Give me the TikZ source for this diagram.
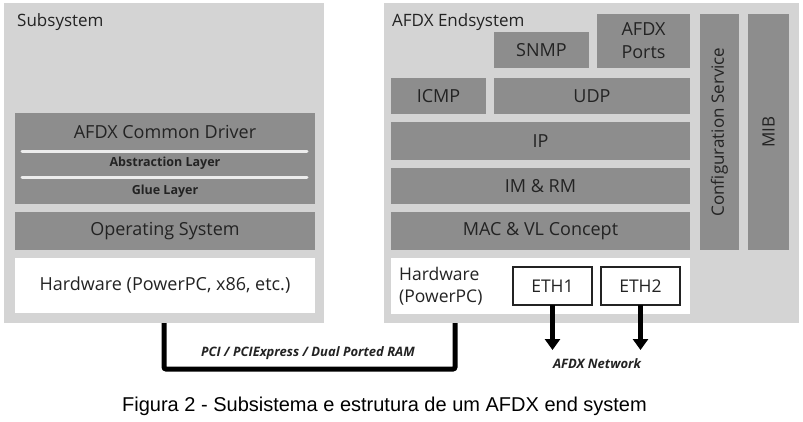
\documentclass[tikz,border=0pt]{standalone}
\usepackage{fontspec}
\setmainfont{Open Sans}
\newfontfamily\capfont{Liberation Sans}
\usetikzlibrary{arrows.meta,positioning}

\definecolor{panelgray}{RGB}{212,212,212}
\definecolor{boxgray}{RGB}{141,141,141}
\definecolor{textdark}{RGB}{35,35,35}
\definecolor{sepwhite}{RGB}{236,236,236}

\tikzset{
  panel/.style={fill=panelgray, inner sep=0, outer sep=0, anchor=north west},
  layer/.style={fill=boxgray, inner sep=0, outer sep=0, anchor=north west,
    text=textdark, font=\fontsize{18}{21}\selectfont},
  hwbox/.style={fill=white, inner sep=0, outer sep=0, anchor=north west,
    text=textdark, font=\fontsize{18}{21}\selectfont},
  ethbox/.style={draw=textdark, line width=1.2pt, fill=white, inner sep=0,
    outer sep=0, anchor=north west, text=textdark,
    font=\fontsize{17.5}{21}\selectfont},
  title/.style={anchor=west, inner sep=0, text=textdark,
    font=\fontsize{17}{20}\selectfont},
  sublabel/.style={text=textdark, inner sep=0, font=\bfseries\fontsize{12.5}{14}\selectfont},
  sepline/.style={draw=sepwhite, line width=3pt, line cap=round},
  bus/.style={line width=5pt, rounded corners=2pt},
  netarrow/.style={line width=5pt, -{Triangle[width=15pt,length=11pt]}},
  smallnote/.style={text=textdark, inner sep=0,
    font=\bfseries\itshape\fontsize{13}{15}\selectfont}
}

\begin{document}
\begin{tikzpicture}[x=1pt, y=-1pt]
  \useasboundingbox (0,0) rectangle (803,421);

  % --- Subsystem ---
  \node[panel, minimum width=320, minimum height=320] (sub) at (4,3) {};
  \node[title] at (17,22) {Subsystem};

  % Common driver with its two layers
  \node[layer, minimum width=300, minimum height=91] (drv) at (15,113) {};
  \node[text=textdark, font=\fontsize{18}{21}\selectfont] at (165,132) {AFDX Common Driver};
  \draw[sepline] (22,151) -- (307,151);
  \node[sublabel] at (165,163) {Abstraction Layer};
  \draw[sepline] (22,177) -- (307,177);
  \node[sublabel] at (165,191) {Glue Layer};

  % Operating system and hardware
  \node[layer, minimum width=300, minimum height=38] (os) at (15,212) {Operating System};
  \node[hwbox, minimum width=300, minimum height=55] (hw) at (15,258) {Hardware (PowerPC, x86, etc.)};

  % --- AFDX Endsystem ---
  \node[panel, minimum width=415, minimum height=320] (es) at (384,3) {};
  \node[title] at (392,22) {AFDX Endsystem};

  % Protocol stack
  \node[layer, minimum width=95, minimum height=36] (snmp) at (494,32) {SNMP};
  \node[layer, minimum width=93, minimum height=54, align=center] (ports) at (597,14) {AFDX\\[2pt]Ports};
  \node[layer, minimum width=95, minimum height=36] (icmp) at (391,78) {ICMP};
  \node[layer, minimum width=196, minimum height=36] (udp) at (494,78) {UDP};
  \node[layer, minimum width=299, minimum height=38] (ip) at (391,122) {IP};
  \node[layer, minimum width=299, minimum height=36] (imrm) at (391,168) {IM \& RM};
  \node[layer, minimum width=299, minimum height=38] (mac) at (391,212) {MAC \& VL Concept};

  % Vertical services
  \node[layer, minimum width=39, minimum height=236] (cfg) at (700,14) {};
  \node[rotate=90, text=textdark, font=\fontsize{17}{20}\selectfont] at (cfg.center) {Configuration Service};
  \node[layer, minimum width=41, minimum height=236] (mib) at (748,14) {};
  \node[rotate=90, text=textdark, font=\fontsize{17}{20}\selectfont] at (mib.center) {MIB};

  % Hardware with the two ports
  \node[hwbox, minimum width=299, minimum height=56] (eshw) at (391,258) {};
  \node[anchor=west, align=left, inner sep=0, text=textdark,
        font=\fontsize{17.5}{22}\selectfont] at (399,286) {Hardware\\(PowerPC)};
  \node[ethbox, minimum width=79, minimum height=38] (eth1) at (513,267) {ETH1};
  \node[ethbox, minimum width=79, minimum height=38] (eth2) at (601,267) {ETH2};

  % --- Connections ---
  \draw[bus] (sub.south) -- ++(0,46) -| ([xshift=71]es.south west);
  \node[smallnote] at (308,353) {PCI / PCIExpress / Dual Ported RAM};

  \draw[netarrow] (eth1.south) -- ++(0,45);
  \draw[netarrow] (eth2.south) -- ++(0,45);
  \node[smallnote] at (597,364) {AFDX Network};

  % Caption
  \node[font=\capfont\fontsize{20}{23}\selectfont] at (384.5,406)
    {Figura 2 - Subsistema e estrutura de um AFDX end system};
\end{tikzpicture}
\end{document}
